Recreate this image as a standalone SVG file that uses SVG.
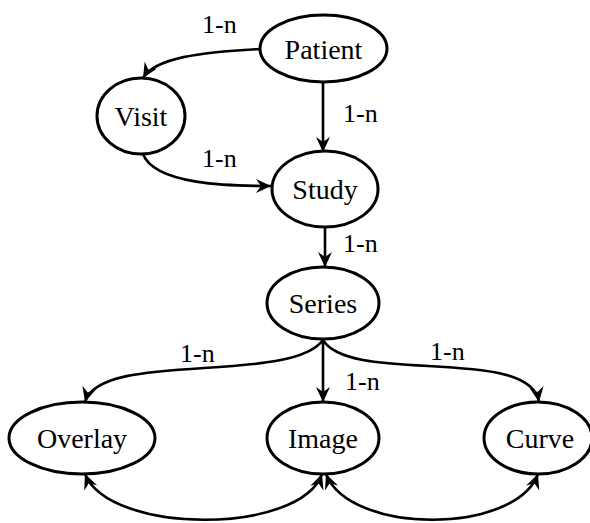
<svg xmlns="http://www.w3.org/2000/svg" width="590" height="523" viewBox="0 0 590 523">
<style>
.node ellipse{fill:#fff;stroke:#000;stroke-width:3}
.node text{font-family:'Liberation Serif','DejaVu Serif',serif;font-size:28px;text-anchor:middle;fill:#000}
.edge{fill:none;stroke:#000;stroke-width:2.6}
.lbl{font-family:'Liberation Serif','DejaVu Serif',serif;font-size:26px;fill:#000}
</style>
<defs>
<marker id="ah" viewBox="-16 -8 17 16" refX="0" refY="0" markerWidth="17" markerHeight="16" markerUnits="userSpaceOnUse" orient="auto-start-reverse">
<path d="M0,0 L-15,-7 L-10,0 L-15,7 Z" fill="#000"/>
</marker>
</defs>
<g id="connectors">
<path class="edge" d="M260,49 C200,52 155,58 143,78" marker-end="url(#ah)"/>
<path class="edge" d="M323,82 L323,152" marker-end="url(#ah)"/>
<path class="edge" d="M143,154 C155,185 230,186 271,186" marker-end="url(#ah)"/>
<path class="edge" d="M325,227 L325,267" marker-end="url(#ah)"/>
<path class="edge" d="M323,340 C290,385 100,350 85,402" marker-end="url(#ah)"/>
<path class="edge" d="M323,340 L323,402" marker-end="url(#ah)"/>
<path class="edge" d="M323,340 C350,385 530,345 539,402" marker-end="url(#ah)"/>
<path class="edge" d="M85,474 C110,535 300,535 322,474" marker-start="url(#ah)" marker-end="url(#ah)"/>
<path class="edge" d="M326,474 C350,535 515,535 538,474" marker-start="url(#ah)" marker-end="url(#ah)"/>
<text class="lbl" x="202" y="33">1-n</text>
<text class="lbl" x="343" y="122">1-n</text>
<text class="lbl" x="202" y="167">1-n</text>
<text class="lbl" x="343" y="252">1-n</text>
<text class="lbl" x="180" y="362">1-n</text>
<text class="lbl" x="345" y="390">1-n</text>
<text class="lbl" x="430" y="360">1-n</text>
</g>
<g id="Patient" class="node"><ellipse cx="323.5" cy="48.5" rx="63.5" ry="33.5"/><text x="323.5" y="58.5">Patient</text></g>
<g id="Visit" class="node"><ellipse cx="141" cy="116" rx="44" ry="38"/><text x="141" y="126">Visit</text></g>
<g id="Study" class="node"><ellipse cx="325" cy="189" rx="53" ry="38"/><text x="325" y="199">Study</text></g>
<g id="Series" class="node"><ellipse cx="323" cy="303" rx="56" ry="36"/><text x="323" y="313">Series</text></g>
<g id="Overlay" class="node"><ellipse cx="82" cy="438" rx="73" ry="36"/><text x="82" y="448">Overlay</text></g>
<g id="Image" class="node"><ellipse cx="323" cy="438" rx="56" ry="36"/><text x="323" y="448">Image</text></g>
<g id="Curve" class="node"><ellipse cx="538" cy="438" rx="54" ry="36"/><text x="540" y="448">Curve</text></g>
</svg>
